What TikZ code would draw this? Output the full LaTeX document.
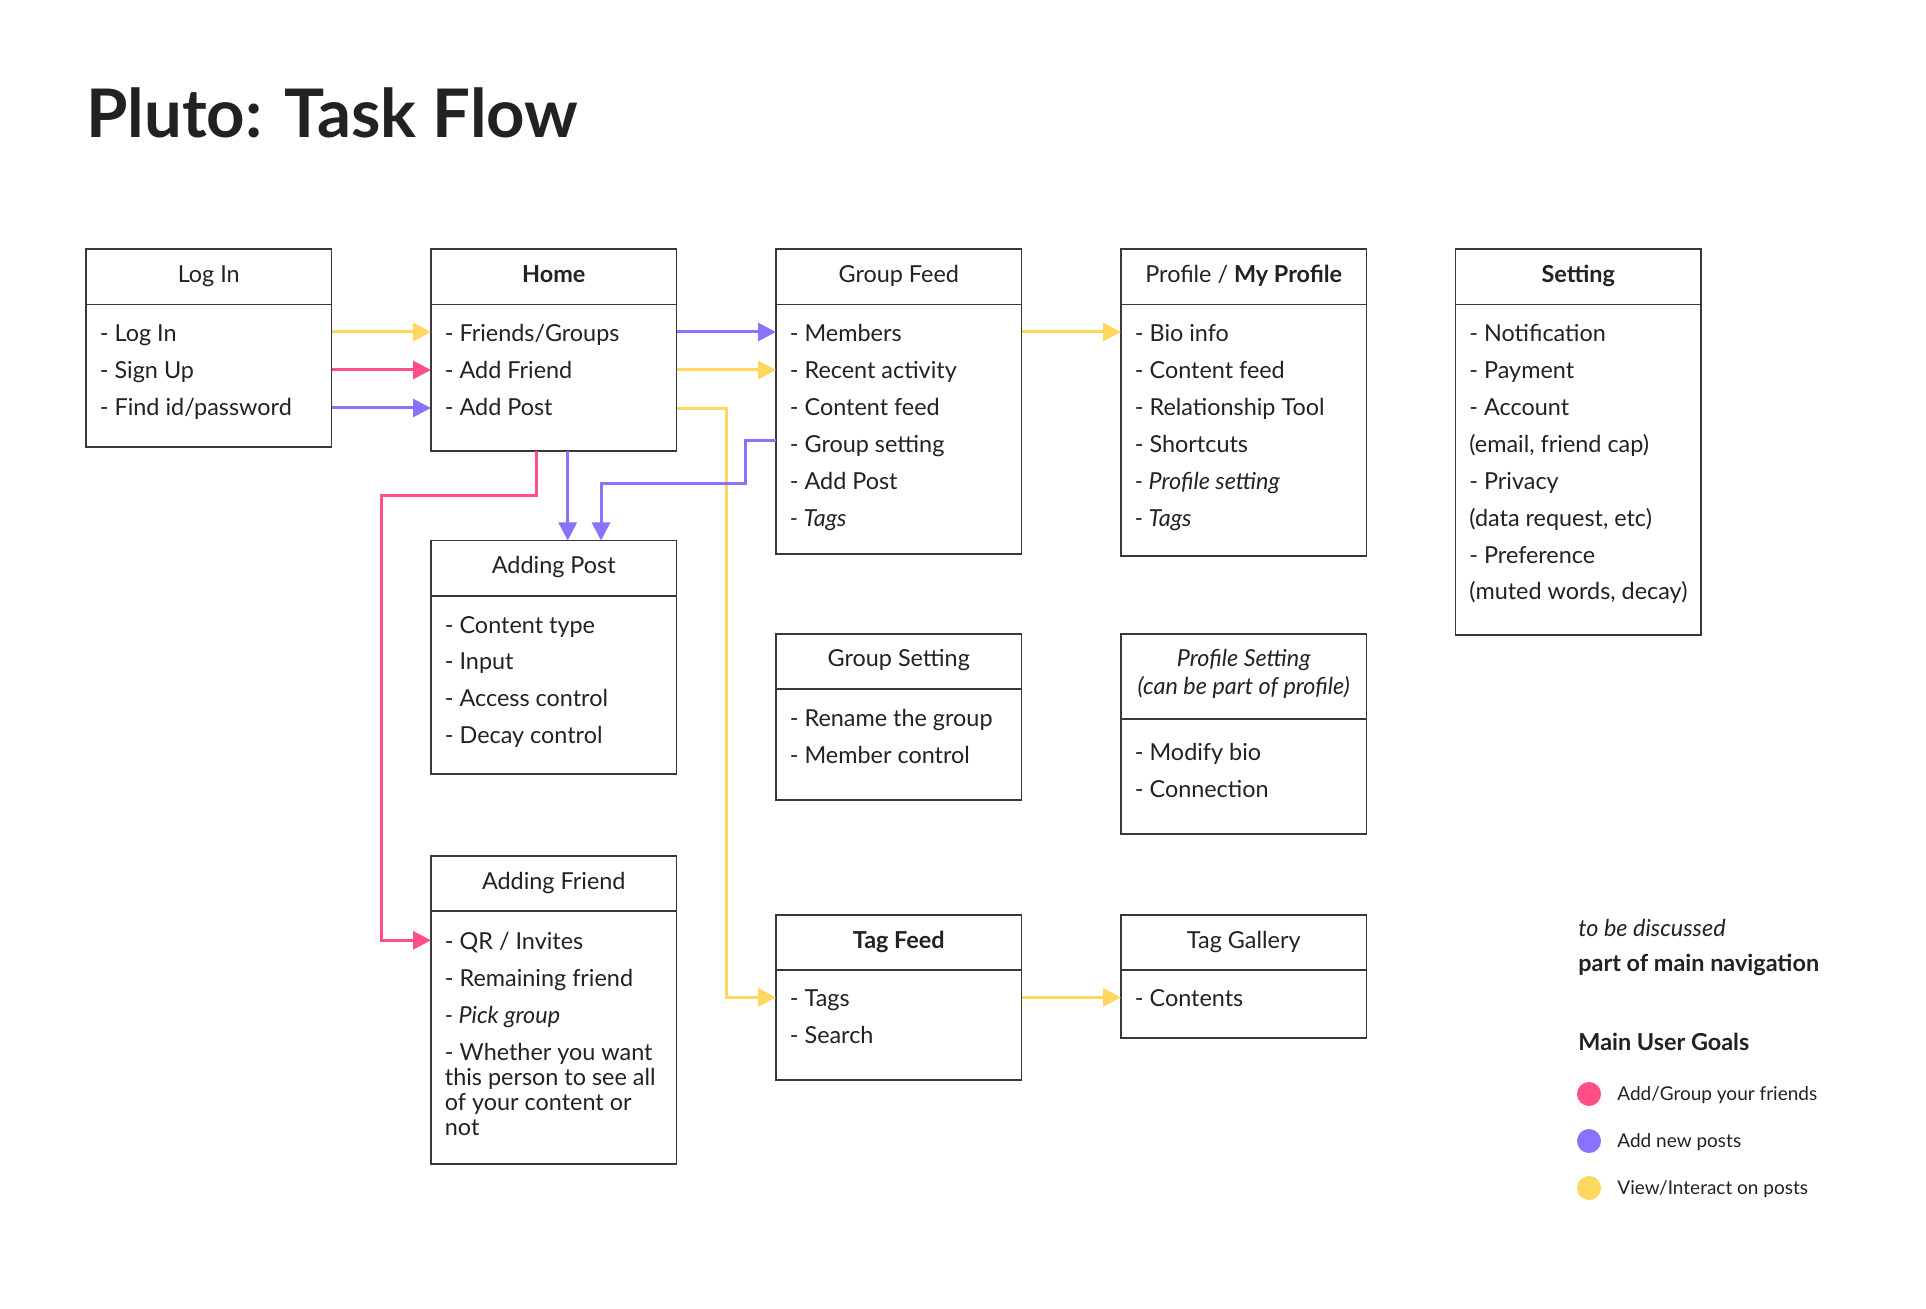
\documentclass[tikz,border=0pt]{standalone}
\usepackage{fontspec}
\setmainfont{Lato}
\usetikzlibrary{arrows.meta}
\definecolor{yel}{HTML}{FFD65E}
\definecolor{pnk}{HTML}{FF4F86}
\definecolor{pur}{HTML}{8A72FF}
\definecolor{ink}{HTML}{222222}
\definecolor{edge}{HTML}{383838}
\newcommand\itemfont{\fontsize{11.7}{13}\selectfont}
\newcommand\legfont{\fontsize{9.5}{11}\selectfont}
\begin{document}
\begin{tikzpicture}[x=0.5pt,y=-0.5pt,
  box/.style={draw=edge, line width=0.9pt, anchor=north west, minimum width=122.75pt, outer sep=0pt, inner sep=0pt},
  divider/.style={draw=edge, line width=0.9pt},
  itm/.style={anchor=base west, inner sep=0pt, font=\itemfont, text=ink},
  hdr/.style={anchor=base, inner sep=0pt, font=\itemfont, text=ink},
  conn/.style={line width=1.5pt, -{Triangle[length=9pt,width=9pt]}},
  yl/.style={conn, draw=yel},
  pk/.style={conn, draw=pnk},
  pu/.style={conn, draw=pur},
  dot/.style={circle, inner sep=0pt, minimum size=12pt}
]
\useasboundingbox[fill=white] (0,0) rectangle (1926,1309);

% title
\node[anchor=base west, inner sep=0pt, font=\fontsize{33.5}{40}\selectfont\bfseries, text=ink] (title) at (86,137.6) {Pluto: Task Flow};

% boxes
\node[box, minimum height=99pt] (login) at (86,249) {};
\node[box, minimum height=101pt] (home) at (431,249) {};
\node[box, minimum height=152.5pt] (gfeed) at (776,249) {};
\node[box, minimum height=153.5pt] (profile) at (1121,249) {};
\node[box, minimum height=193pt] (setting) at (1455.5,249) {};
\node[box, minimum height=116.75pt] (apost) at (431,540.5) {};
\node[box, minimum height=83pt] (gset) at (776,634) {};
\node[box, minimum height=100pt] (pset) at (1121,634) {};
\node[box, minimum height=154pt] (afriend) at (431,856) {};
\node[box, minimum height=82.5pt] (tfeed) at (776,915) {};
\node[box, minimum height=61.5pt] (tgal) at (1121,915) {};

% dividers
\coordinate (d1) at (0,304.6);
\coordinate (d2) at (0,596);
\coordinate (d3) at (0,689);
\coordinate (d4) at (0,718.6);
\coordinate (d5) at (0,911);
\coordinate (d6) at (0,970);
\foreach \b in {login,home,gfeed,profile,setting}
  \draw[divider] (\b.west |- d1) -- (\b.east |- d1);
\draw[divider] (apost.west |- d2) -- (apost.east |- d2);
\draw[divider] (gset.west |- d3) -- (gset.east |- d3);
\draw[divider] (pset.west |- d4) -- (pset.east |- d4);
\draw[divider] (afriend.west |- d5) -- (afriend.east |- d5);
\draw[divider] (tfeed.west |- d6) -- (tfeed.east |- d6);
\draw[divider] (tgal.west |- d6) -- (tgal.east |- d6);

% headers
\node[hdr] (hlogin) at (208.75,283) {Log In};
\node[hdr] (hhome) at (553.75,283) {\bfseries Home};
\node[hdr] (hgfeed) at (898.75,283) {Group Feed};
\node[hdr] (hprofile) at (1243.75,283) {Profile / \textbf{My Profile}};
\node[hdr] (hsetting) at (1578.25,283) {\bfseries Setting};
\node[hdr] (hapost) at (553.75,574) {Adding Post};
\node[hdr] (hgset) at (898.75,667) {Group Setting};
\node[hdr] (hpset1) at (1243.75,667) {\itshape Profile Setting};
\node[hdr] (hpset2) at (1243.75,694.4) {\itshape (can be part of profile)};
\node[hdr] (hafriend) at (553.75,889.7) {Adding Friend};
\node[hdr] (htfeed) at (898.75,948.6) {\bfseries Tag Feed};
\node[hdr] (htgal) at (1243.75,948.6) {Tag Gallery};

% items
\foreach \t [count=\i from 0] in {- Log In, - Sign Up, - Find id/password}
  \node[itm] (li\i) at (99.5,342+36.85*\i) {\t};
\foreach \t [count=\i from 0] in {- Friends/Groups, - Add Friend, - Add Post}
  \node[itm] (ho\i) at (444.5,342+36.85*\i) {\t};
\foreach \t [count=\i from 0] in {- Members, - Recent activity, - Content feed, - Group setting, - Add Post, {\itshape - Tags}}
  \node[itm] (gf\i) at (789.5,342+36.85*\i) {\t};
\foreach \t [count=\i from 0] in {- Bio info, - Content feed, - Relationship Tool, - Shortcuts, {\itshape - Profile setting}, {\itshape - Tags}}
  \node[itm] (pr\i) at (1134.5,342+36.85*\i) {\t};
\foreach \t [count=\i from 0] in {- Notification, - Payment, - Account, {(email, friend cap)}, - Privacy, {(data request, etc)}, - Preference, {(muted words, decay)}}
  \node[itm] (se\i) at (1469,342+36.85*\i) {\t};
\foreach \t [count=\i from 0] in {- Content type, - Input, - Access control, - Decay control}
  \node[itm] (ap\i) at (444.5,633+36.85*\i) {\t};
\foreach \t [count=\i from 0] in {- Rename the group, - Member control}
  \node[itm] (gs\i) at (789.5,726.3+36.85*\i) {\t};
\foreach \t [count=\i from 0] in {- Modify bio, - Connection}
  \node[itm] (ps\i) at (1134.5,760.7+36.85*\i) {\t};
\foreach \t [count=\i from 0] in {- QR / Invites, - Remaining friend, {\itshape - Pick group}}
  \node[itm] (af\i) at (444.5,949.3+36.85*\i) {\t};
\foreach \t [count=\i from 0] in {- Whether you want, this person to see all, of your content or, not}
  \node[itm] (aw\i) at (444.5,1060.4+25.1*\i) {\t};
\foreach \t [count=\i from 0] in {- Tags, - Search}
  \node[itm] (tf\i) at (789.5,1006.4+36.85*\i) {\t};
\node[itm] (tg0) at (1134.5,1006.4) {- Contents};

% connector coordinates
\coordinate (ya) at (0,332);
\coordinate (yb) at (0,370);
\coordinate (yc) at (0,408);
\coordinate (yelx) at (726,409);
\coordinate (tagy) at (0,997.4);
\coordinate (purx1) at (567.7,0);
\coordinate (gsy) at (0,441);
\coordinate (purj) at (745,484);
\coordinate (purx2) at (601,484);
\coordinate (pinkx) at (536,0);
\coordinate (pinkl) at (381.7,496);
\coordinate (afy) at (0,940.3);

% connectors
\draw[yl] (login.east |- ya) -- (home.west |- ya);
\draw[pk] (login.east |- yb) -- (home.west |- yb);
\draw[pu] (login.east |- yc) -- (home.west |- yc);
\draw[pu] (home.east |- ya) -- (gfeed.west |- ya);
\draw[yl] (home.east |- yb) -- (gfeed.west |- yb);
\draw[yl] (home.east |- yelx) -- (yelx) |- (tfeed.west |- tagy);
\draw[pu] (home.south -| purx1) -- (apost.north -| purx1);
\draw[pu] (gfeed.west |- gsy) -| (purj) -| (apost.north -| purx2);
\draw[pk] (home.south -| pinkx) |- (pinkl) |- (afriend.west |- afy);
\draw[yl] (gfeed.east |- ya) -- (profile.west |- ya);
\draw[yl] (tfeed.east |- tagy) -- (tgal.west |- tagy);

% legend
\node[anchor=base west, inner sep=0pt, font=\itemfont\itshape, text=ink] (tbd) at (1578,936) {to be discussed};
\node[anchor=base west, inner sep=0pt, font=\itemfont\bfseries, text=ink] (pmn) at (1578,971) {part of main navigation};
\node[anchor=base west, inner sep=0pt, font=\itemfont\bfseries, text=ink] (mug) at (1578,1050) {Main User Goals};
\node[dot, fill=pnk] (lg1) at (1589,1094) {};
\node[dot, fill=pur] (lg2) at (1589,1141) {};
\node[dot, fill=yel] (lg3) at (1589,1188) {};
\node[anchor=base west, inner sep=0pt, font=\legfont, text=ink] (lt1) at (1617,1100.5) {Add/Group your friends};
\node[anchor=base west, inner sep=0pt, font=\legfont, text=ink] (lt2) at (1617,1147.5) {Add new posts};
\node[anchor=base west, inner sep=0pt, font=\legfont, text=ink] (lt3) at (1617,1194.5) {View/Interact on posts};
\end{tikzpicture}
\end{document}
